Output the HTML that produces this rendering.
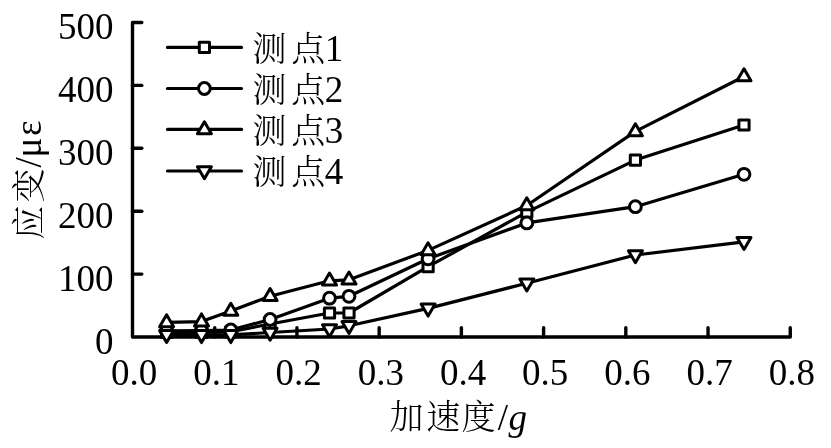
<!DOCTYPE html>
<html><head><meta charset="utf-8"><style>
html,body{margin:0;padding:0;background:#fff;}
svg{display:block;}
text{font-family:"Liberation Serif","Noto Serif CJK SC",serif;font-size:37px;fill:#000;}
text.cjk{font-family:"Noto Serif CJK SC","Liberation Serif",serif;font-weight:300;font-size:34px;}
.ax path{stroke:#000;stroke-width:3.4;fill:none;stroke-linecap:round;stroke-linejoin:round;}
.ln{stroke:#000;stroke-width:3.2;fill:none;stroke-linejoin:round;stroke-linecap:round;}
.mk{stroke:#000;stroke-width:3;fill:#fff;stroke-linejoin:round;}
</style></head><body>
<svg width="831" height="448" viewBox="0 0 831 448">
<g class="ax">
<path d="M141.8,22.5 H132.5 V337.0 H790.26 V327.7"/>
<path d="M132.5,274.10 h9.3"/>
<path d="M132.5,211.20 h9.3"/>
<path d="M132.5,148.30 h9.3"/>
<path d="M132.5,85.40 h9.3"/>
<path d="M214.72,337.0 v-9.3"/>
<path d="M296.94,337.0 v-9.3"/>
<path d="M379.16,337.0 v-9.3"/>
<path d="M461.38,337.0 v-9.3"/>
<path d="M543.60,337.0 v-9.3"/>
<path d="M625.82,337.0 v-9.3"/>
<path d="M708.04,337.0 v-9.3"/>
</g>
<text x="113.4" y="353.9" text-anchor="end">0</text>
<text x="113.4" y="291.0" text-anchor="end">100</text>
<text x="113.4" y="228.1" text-anchor="end">200</text>
<text x="113.4" y="165.2" text-anchor="end">300</text>
<text x="113.4" y="102.3" text-anchor="end">400</text>
<text x="113.4" y="39.4" text-anchor="end">500</text>
<text x="134.1" y="385.2" text-anchor="middle">0.0</text>
<text x="216.3" y="385.2" text-anchor="middle">0.1</text>
<text x="298.5" y="385.2" text-anchor="middle">0.2</text>
<text x="380.8" y="385.2" text-anchor="middle">0.3</text>
<text x="463.0" y="385.2" text-anchor="middle">0.4</text>
<text x="545.2" y="385.2" text-anchor="middle">0.5</text>
<text x="627.4" y="385.2" text-anchor="middle">0.6</text>
<text x="709.6" y="385.2" text-anchor="middle">0.7</text>
<text x="791.9" y="385.2" text-anchor="middle">0.8</text>
<polyline points="166.6,332.5 201.5,332.3 230.8,331.8 270.1,324.0 329.5,313.0 349.0,313.0 428.1,266.7 526.8,212.1 635.4,160.1 744.0,125.0" class="ln"/>
<rect class="mk" x="161.50" y="327.40" width="10.2" height="10.2"/>
<rect class="mk" x="196.40" y="327.20" width="10.2" height="10.2"/>
<rect class="mk" x="225.70" y="326.70" width="10.2" height="10.2"/>
<rect class="mk" x="265.00" y="318.90" width="10.2" height="10.2"/>
<rect class="mk" x="324.40" y="307.90" width="10.2" height="10.2"/>
<rect class="mk" x="343.90" y="307.90" width="10.2" height="10.2"/>
<rect class="mk" x="423.00" y="261.60" width="10.2" height="10.2"/>
<rect class="mk" x="521.70" y="207.00" width="10.2" height="10.2"/>
<rect class="mk" x="630.30" y="155.00" width="10.2" height="10.2"/>
<rect class="mk" x="738.90" y="119.90" width="10.2" height="10.2"/>
<polyline points="166.6,330.8 201.5,330.5 230.8,330.0 270.1,319.5 329.5,298.2 349.0,296.3 428.1,258.8 526.8,222.9 635.4,206.7 744.0,174.3" class="ln"/>
<circle class="mk" cx="166.60" cy="330.80" r="5.9"/>
<circle class="mk" cx="201.50" cy="330.50" r="5.9"/>
<circle class="mk" cx="230.80" cy="330.00" r="5.9"/>
<circle class="mk" cx="270.10" cy="319.50" r="5.9"/>
<circle class="mk" cx="329.50" cy="298.20" r="5.9"/>
<circle class="mk" cx="349.00" cy="296.30" r="5.9"/>
<circle class="mk" cx="428.10" cy="258.80" r="5.9"/>
<circle class="mk" cx="526.80" cy="222.90" r="5.9"/>
<circle class="mk" cx="635.40" cy="206.70" r="5.9"/>
<circle class="mk" cx="744.00" cy="174.30" r="5.9"/>
<polyline points="166.6,322.4 201.5,321.6 230.8,311.0 270.1,296.3 329.5,280.8 349.0,279.8 428.1,250.4 526.8,205.5 635.4,131.4 744.0,76.5" class="ln"/>
<path class="mk" d="M166.60,314.70 L173.60,326.70 L159.60,326.70 Z"/>
<path class="mk" d="M201.50,313.90 L208.50,325.90 L194.50,325.90 Z"/>
<path class="mk" d="M230.80,303.30 L237.80,315.30 L223.80,315.30 Z"/>
<path class="mk" d="M270.10,288.60 L277.10,300.60 L263.10,300.60 Z"/>
<path class="mk" d="M329.50,273.10 L336.50,285.10 L322.50,285.10 Z"/>
<path class="mk" d="M349.00,272.10 L356.00,284.10 L342.00,284.10 Z"/>
<path class="mk" d="M428.10,242.70 L435.10,254.70 L421.10,254.70 Z"/>
<path class="mk" d="M526.80,197.80 L533.80,209.80 L519.80,209.80 Z"/>
<path class="mk" d="M635.40,123.70 L642.40,135.70 L628.40,135.70 Z"/>
<path class="mk" d="M744.00,68.80 L751.00,80.80 L737.00,80.80 Z"/>
<polyline points="166.6,334.8 201.5,334.9 230.8,334.9 270.1,332.5 329.5,329.0 349.0,325.8 428.1,308.4 526.8,283.2 635.4,255.0 744.0,241.8" class="ln"/>
<path class="mk" d="M166.60,342.50 L173.60,330.50 L159.60,330.50 Z"/>
<path class="mk" d="M201.50,342.60 L208.50,330.60 L194.50,330.60 Z"/>
<path class="mk" d="M230.80,342.60 L237.80,330.60 L223.80,330.60 Z"/>
<path class="mk" d="M270.10,340.20 L277.10,328.20 L263.10,328.20 Z"/>
<path class="mk" d="M329.50,336.70 L336.50,324.70 L322.50,324.70 Z"/>
<path class="mk" d="M349.00,333.50 L356.00,321.50 L342.00,321.50 Z"/>
<path class="mk" d="M428.10,316.10 L435.10,304.10 L421.10,304.10 Z"/>
<path class="mk" d="M526.80,290.90 L533.80,278.90 L519.80,278.90 Z"/>
<path class="mk" d="M635.40,262.70 L642.40,250.70 L628.40,250.70 Z"/>
<path class="mk" d="M744.00,249.50 L751.00,237.50 L737.00,237.50 Z"/>
<path d="M167.5,47.4 H241.5" class="ln"/>
<rect class="mk" x="199.30" y="42.30" width="10.2" height="10.2"/>
<text class="cjk" y="61.2"><tspan x="252.6">测</tspan><tspan x="291.2">点</tspan></text>
<text x="324.8" y="61.2">1</text>
<path d="M167.5,88.5 H241.5" class="ln"/>
<circle class="mk" cx="204.40" cy="88.50" r="5.9"/>
<text class="cjk" y="102.2"><tspan x="252.6">测</tspan><tspan x="291.2">点</tspan></text>
<text x="324.8" y="102.2">2</text>
<path d="M167.5,129.4 H241.5" class="ln"/>
<path class="mk" d="M204.40,121.70 L211.40,133.70 L197.40,133.70 Z"/>
<text class="cjk" y="143.3"><tspan x="252.6">测</tspan><tspan x="291.2">点</tspan></text>
<text x="324.8" y="143.3">3</text>
<path d="M167.5,171.0 H241.5" class="ln"/>
<path class="mk" d="M204.40,178.70 L211.40,166.70 L197.40,166.70 Z"/>
<text class="cjk" y="184.3"><tspan x="252.6">测</tspan><tspan x="291.2">点</tspan></text>
<text x="324.8" y="184.3">4</text>
<text class="cjk" y="429.4"><tspan x="389.6">加</tspan><tspan x="426.2">速</tspan><tspan x="461.5">度</tspan></text><text x="497.8" y="429.6">/</text><text x="508.6" y="429.6" font-style="italic">g</text>
<g transform="translate(40.6,0) rotate(-90)"><text class="cjk" y="0"><tspan x="-239.4">应</tspan><tspan x="-202.5">变</tspan></text><text x="-167.4" y="0">/</text><text x="-157.5" y="0">μ</text><text x="-136" y="0">ε</text></g>
</svg>
</body></html>
